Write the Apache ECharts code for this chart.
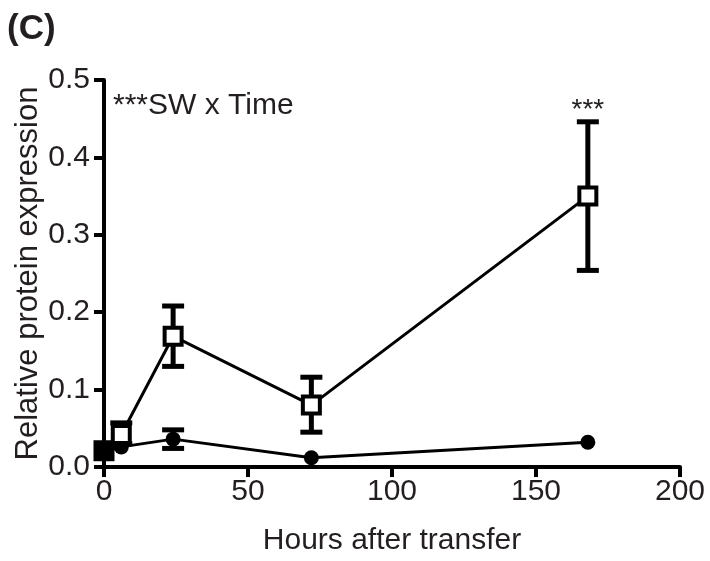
<!DOCTYPE html>
<html>
<head>
<meta charset="utf-8">
<script src="https://cdn.jsdelivr.net/npm/echarts@6/dist/echarts.min.js"></script>
<style>
  html, body { margin: 0; padding: 0; background: #fff; }
  #main { width: 710px; height: 561px; }
</style>
</head>
<body>
<div id="main"></div>
<script>
// hours after transfer
var hours = [0, 6, 24, 72, 168];
// open squares series
var swMean = [0.021, 0.042, 0.169, 0.080, 0.350];
var swLow = [0.021, 0.030, 0.130, 0.045, 0.254];
var swHigh = [0.021, 0.057, 0.208, 0.116, 0.446];
// filled circles series
var fwMean = [0.020, 0.026, 0.036, 0.012, 0.032];
var fwLow = [0.020, 0.026, 0.024, 0.012, 0.032];
var fwHigh = [0.020, 0.026, 0.048, 0.012, 0.032];

var font = 'Liberation Sans, Arial, Helvetica, sans-serif';
var ink = '#231f20';

function pairs(ys) {
    return hours.map(function (h, i) { return [h, ys[i]]; });
}
function bars(lo, hi) {
    return hours.map(function (h, i) { return [h, lo[i], hi[i]]; });
}

function errRender(params, api) {
    var x = api.value(0);
    var lo = api.coord([x, api.value(1)]);
    var hi = api.coord([x, api.value(2)]);
    if (Math.abs(lo[1] - hi[1]) < 1) return null;
    var w = 11;
    var st = { stroke: '#000', lineWidth: 5 };
    return {
        type: 'group',
        children: [
            { type: 'line', shape: { x1: lo[0], y1: lo[1], x2: hi[0], y2: hi[1] }, style: st },
            { type: 'line', shape: { x1: lo[0] - w, y1: lo[1], x2: lo[0] + w, y2: lo[1] }, style: st },
            { type: 'line', shape: { x1: hi[0] - w, y1: hi[1], x2: hi[0] + w, y2: hi[1] }, style: st }
        ]
    };
}

// first square (time 0) is drawn solid, the rest open
var swData = pairs(swMean).map(function (p, i) {
    if (i == 0) return { value: p, itemStyle: { color: '#000' } };
    return p;
});

var myChart = echarts.init(document.getElementById('main'));

var option = {
    animation: false,
    grid: { left: 104, right: 30, top: 80, bottom: 93 },
    xAxis: {
        type: 'value',
        min: 0, max: 200, interval: 50,
        name: 'Hours after transfer',
        nameLocation: 'middle',
        nameGap: 59,
        nameTextStyle: { fontSize: 30, color: ink, fontFamily: font },
        axisLine: { lineStyle: { color: '#000', width: 4 } },
        axisTick: { length: 10, lineStyle: { color: '#000', width: 4 } },
        axisLabel: { fontSize: 30, color: ink, fontFamily: font, margin: 10 },
        splitLine: { show: false }
    },
    yAxis: {
        type: 'value',
        min: 0, max: 0.5, interval: 0.1,
        name: 'Relative protein expression',
        nameLocation: 'middle',
        nameGap: 60,
        nameMoveOverlap: false,
        nameTextStyle: { fontSize: 31, color: ink, fontFamily: font },
        axisLine: { lineStyle: { color: '#000', width: 4 } },
        axisTick: { length: 10, lineStyle: { color: '#000', width: 4 } },
        axisLabel: {
            fontSize: 30, color: ink, fontFamily: font, margin: 14,
            formatter: function (v) { return v.toFixed(1); }
        },
        splitLine: { show: false }
    },
    graphic: [
        { type: 'text', left: 7, top: 12, style: { text: '(C)', fontSize: 35, fontWeight: 'bold', fill: ink, fontFamily: font } },
        { type: 'text', left: 113, top: 91, style: { text: '***SW x Time', fontSize: 30, fill: ink, fontFamily: font } }
    ],
    series: [
        {
            type: 'custom',
            renderItem: errRender,
            data: bars(fwLow, fwHigh),
            z: 2
        },
        {
            type: 'custom',
            renderItem: errRender,
            data: bars(swLow, swHigh),
            z: 2
        },
        {
            type: 'line',
            data: pairs(fwMean),
            symbol: 'circle',
            symbolSize: 15,
            lineStyle: { color: '#000', width: 3 },
            itemStyle: { color: '#000' },
            z: 3
        },
        {
            type: 'line',
            data: swData,
            symbol: 'rect',
            symbolSize: 17,
            lineStyle: { color: '#000', width: 3 },
            itemStyle: { color: '#fff', borderColor: '#000', borderWidth: 4 },
            z: 4,
            markPoint: {
                symbol: 'rect',
                symbolSize: 0,
                data: [{ coord: [168, 0.461], value: '***' }],
                label: { show: true, formatter: '***', fontSize: 28, color: ink, fontFamily: font }
            }
        }
    ]
};

myChart.setOption(option);
</script>
</body>
</html>
